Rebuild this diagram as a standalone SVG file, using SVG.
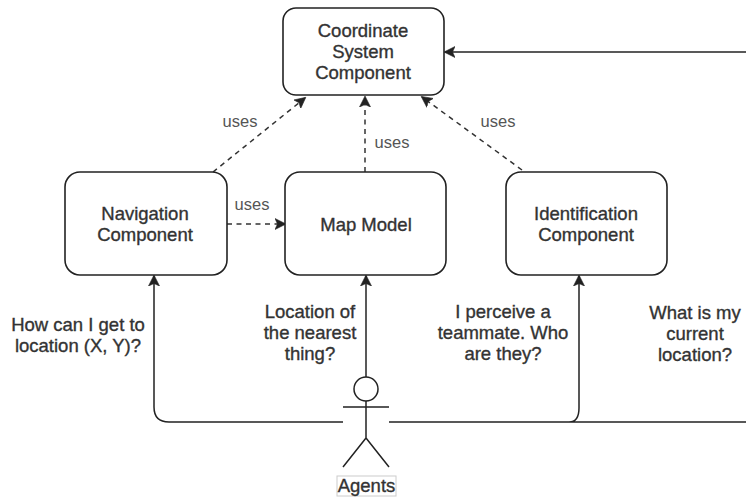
<svg xmlns="http://www.w3.org/2000/svg" width="746" height="498" viewBox="0 0 746 498">
<style>
.n{fill:#fff;stroke:#222;stroke-width:1.6}
text{font-family:"Liberation Sans",Arial,sans-serif;font-size:18.500px;fill:#333;stroke:#333;stroke-width:.35;text-anchor:middle}
text.u{font-size:16.500px;fill:#555;stroke:none}
.c{fill:none;stroke:#222;stroke-width:1.5}
.d{stroke:#333;stroke-dasharray:5 4.500}
</style>
<defs>
<marker id="a" markerUnits="userSpaceOnUse" markerWidth="12" markerHeight="12" refX="10" refY="6" orient="auto"><path d="M0 .5L11 6L0 11.500L2.500 6Z" fill="#222" stroke="#222" stroke-width=".6"/></marker>
</defs>
<rect width="746" height="498" fill="#fff"/>
<g id="connectors">
<path class="c d" marker-end="url(#a)" d="M213 172L305 98"/>
<path class="c d" marker-end="url(#a)" d="M365 172V97"/>
<path class="c d" marker-end="url(#a)" d="M522 170L422 97"/>
<path class="c d" marker-end="url(#a)" d="M227 224H285"/>
<path class="c" marker-end="url(#a)" d="M746 52H445"/>
<path class="c" marker-end="url(#a)" d="M366 378V276"/>
<path class="c" marker-end="url(#a)" d="M343 422H169Q154 422 154 407V276"/>
<path class="c" marker-end="url(#a)" d="M389 422H746M569 422Q579 422 579 408V276"/>
</g>
<g id="coordinate"><rect class="n" x="283" y="8" width="161" height="87" rx="13"/><text x="363" y="37">Coordinate</text><text x="363" y="58">System</text><text x="363" y="79">Component</text></g>
<g id="navigation"><rect class="n" x="65" y="172" width="162" height="103" rx="15"/><text x="145" y="220">Navigation</text><text x="145" y="241">Component</text></g>
<g id="map"><rect class="n" x="285" y="172" width="161" height="103" rx="15"/><text x="366" y="231">Map Model</text></g>
<g id="identification"><rect class="n" x="506" y="172" width="161" height="103" rx="15"/><text x="586" y="220">Identification</text><text x="586" y="241">Component</text></g>
<g id="agents">
<g class="c"><circle cx="366" cy="389" r="12" fill="#fff"/><path d="M366 401V438M343 407H389M366 438L343 467M366 438L389 467"/></g>
<rect x="337" y="476" width="59" height="20" fill="#fff" stroke="#ccc"/><text x="366.500" y="492">Agents</text>
</g>
<g id="labels">
<text class="u" x="240" y="127">uses</text><text class="u" x="392" y="148">uses</text><text class="u" x="498" y="127">uses</text><text class="u" x="252" y="210">uses</text>
<text x="78" y="331">How can I get to</text><text x="78" y="352">location (X, Y)?</text>
<text x="310" y="318">Location of</text><text x="310" y="339">the nearest</text><text x="310" y="360">thing?</text>
<text x="503" y="318">I perceive a</text><text x="503" y="339">teammate. Who</text><text x="503" y="360">are they?</text>
<text x="695" y="319">What is my</text><text x="695" y="340">current</text><text x="695" y="361">location?</text>
</g>
</svg>
